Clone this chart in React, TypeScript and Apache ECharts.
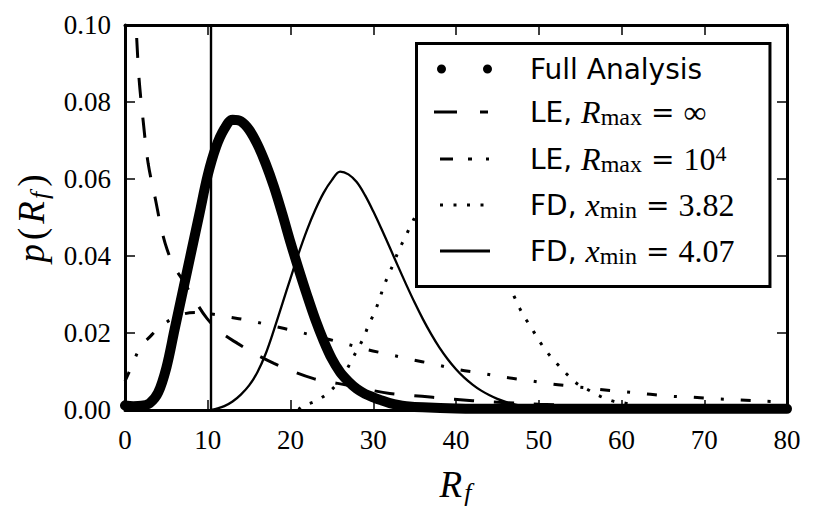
import React, { useEffect, useRef } from "react";
import * as echarts from "echarts";

// ---- axes ----
const xMin = 0;
const xMax = 80;
const xStep = 10;
const yMin = 0;
const yMax = 0.1;
const yStep = 0.02;

// ---- series names ----
const nameFull = "Full Analysis";
const nameLEinf = "LE, R_max = ∞";
const nameLE1e4 = "LE, R_max = 10^4";
const nameFD382 = "FD, x_min = 3.82";
const nameFD407 = "FD, x_min = 4.07";

// ---- Full Analysis (thick) ----
const fullR = [0, 1, 2, 3, 4, 5, 6, 7, 8, 9, 10, 11, 12, 13, 14, 15, 16, 17, 18, 19, 20, 21, 22, 23, 24, 25, 26, 27, 28, 29, 30, 31, 32, 33, 34, 36, 40, 45, 50, 60, 70, 80];
const fullP = [0.0012, 0.001, 0.0011, 0.0018, 0.0045, 0.011, 0.021, 0.031, 0.041, 0.051, 0.061, 0.0683, 0.073, 0.0754, 0.075, 0.0728, 0.069, 0.064, 0.058, 0.051, 0.0435, 0.0365, 0.0298, 0.0235, 0.018, 0.0133, 0.0098, 0.0074, 0.0055, 0.0042, 0.0033, 0.0025, 0.0018, 0.0013, 0.001, 0.0007, 0.0004, 0.0003, 0.0003, 0.0003, 0.0003, 0.0003];

// ---- LE, Rmax = inf (dashed) ----
const leInfR = [1.1, 1.4, 1.7, 2.2, 2.8, 3.7, 4.4, 5.1, 6, 6.9, 8.3, 9.9, 11.7, 13.6, 15.8, 18, 20.3, 22.7, 24.7, 26.8, 29.4, 32, 34.6, 37.2, 42, 46, 50, 55, 60, 70, 80];
const leInfP = [0.107, 0.097, 0.086, 0.075, 0.064, 0.0545, 0.047, 0.0416, 0.037, 0.034, 0.029, 0.0238, 0.02, 0.0173, 0.0145, 0.0121, 0.01, 0.0082, 0.0073, 0.0065, 0.0053, 0.0043, 0.0038, 0.0033, 0.0024, 0.0019, 0.0015, 0.0011, 0.0009, 0.0006, 0.0004];

// ---- LE, Rmax = 10^4 (dash-dot) ----
const le4R = [0, 0.7, 1.9, 3, 3.9, 5, 6, 7.2, 8.5, 10, 12.4, 15.1, 17.9, 20.6, 23.4, 26.2, 29, 31.8, 34.4, 37.4, 40, 43, 45.9, 48.6, 51.4, 54.3, 57.2, 60, 63, 65.7, 68.6, 71.5, 74.3, 77.1, 80];
const le4P = [0.0075, 0.0108, 0.0165, 0.019, 0.021, 0.0228, 0.024, 0.025, 0.0253, 0.0251, 0.0242, 0.0232, 0.0218, 0.0205, 0.019, 0.0175, 0.0158, 0.0145, 0.0132, 0.0119, 0.0106, 0.0096, 0.0085, 0.0077, 0.0068, 0.0061, 0.0054, 0.0048, 0.0042, 0.0036, 0.0033, 0.0029, 0.0026, 0.0023, 0.002];

// ---- FD, xmin = 3.82 (dotted) ----
const fd382R = [21, 21.3, 22.9, 24.3, 25.5, 26.4, 27.2, 28, 28.8, 29.4, 30.1, 30.7, 31.2, 31.8, 32.5, 33.1, 33.8, 34.5, 35.5, 36.5, 37.5, 38.5, 39.5, 40.5, 41.5, 42.5, 43.5, 44.5, 45.5, 47, 47.7, 48.5, 49.4, 50.2, 51.2, 52.3, 53.4, 54.6, 56, 57.5, 59, 60.6, 62, 65, 70, 80];
const fd382P = [0, 0.0009, 0.0022, 0.004, 0.0065, 0.009, 0.0121, 0.0154, 0.0186, 0.0219, 0.0251, 0.0284, 0.0317, 0.0349, 0.0383, 0.0416, 0.0446, 0.0478, 0.052, 0.0555, 0.058, 0.059, 0.0585, 0.057, 0.0545, 0.051, 0.046, 0.041, 0.0355, 0.0296, 0.0264, 0.0234, 0.0203, 0.0175, 0.0145, 0.0118, 0.0093, 0.0069, 0.0052, 0.0035, 0.0023, 0.0017, 0.001, 0.0004, 0.0001, 0];

// ---- FD, xmin = 4.07 (thin solid) ----
const fd407R = [10.4, 11, 12, 13, 14, 15, 16, 17, 18, 19, 20, 21, 22, 23, 24, 25, 26, 27, 28, 29, 30, 31, 32, 33, 34, 35, 36, 37, 38, 39, 40, 41, 42, 43, 44, 45, 46, 47, 48, 49, 50, 52, 55, 60, 80];
const fd407P = [0, 0.0003, 0.001, 0.0022, 0.004, 0.0064, 0.0098, 0.0146, 0.0208, 0.0275, 0.0342, 0.0408, 0.0468, 0.052, 0.0564, 0.0597, 0.0619, 0.0612, 0.0592, 0.0558, 0.0516, 0.047, 0.0422, 0.0373, 0.0325, 0.0279, 0.0236, 0.0197, 0.0162, 0.0132, 0.0106, 0.0084, 0.0066, 0.0051, 0.0039, 0.0029, 0.0021, 0.0015, 0.001, 0.0007, 0.0004, 0.0002, 0.0001, 0, 0];

// vertical reference line position
const cutR = 10.4;

const zip = (xs: number[], ys: number[]) => xs.map((x, i) => [x, ys[i]]);

// legend rich labels
const legendLabels: Record<string, string> = {
  [nameFull]: "{s|Full Analysis}",
  [nameLEinf]: "{s|LE, }{i|R}{sub|max}{eq|=}{m|∞}",
  [nameLE1e4]: "{s|LE, }{i|R}{sub|max}{eq|=}{m|10}{sup|4}",
  [nameFD382]: "{s|FD, }{i|x}{sub|min}{eq|=}{m|3.82}",
  [nameFD407]: "{s|FD, }{i|x}{sub|min}{eq|=}{m|4.07}",
};

// legend icons (58 x 10 boxes)
const B = "M0,0M58,10";
const iconFull = "path://" + B + "M3,5a4.5,4.5 0 1,0 9,0a4.5,4.5 0 1,0 -9,0M49,5a4.5,4.5 0 1,0 9,0a4.5,4.5 0 1,0 -9,0";
const iconDash = "path://" + B + "M0,3.5h23v3h-23zM46,3.5h8v3h-8z";
const iconDashDot = "path://" + B + "M6,3.5h13v3h-13zM34,3.5h4v3h-4zM52,3.5h3v3h-3z";
const iconDot = "path://" + B + "M6,3.5h3v3h-3zM19.5,3.5h3v3h-3zM33,3.5h3v3h-3zM46.5,3.5h3v3h-3z";
const iconSolid = "path://" + B + "M6,3.5h50v3h-50z";

const serif = "Liberation Serif, DejaVu Serif, serif";

export default function App() {
  const ref = useRef<HTMLDivElement>(null);

  useEffect(() => {
    document.body.style.margin = "0";
    if (!ref.current) return;
    const chart = echarts.init(ref.current, null, { renderer: "svg" });

    const axisLine = { show: true, onZero: false, lineStyle: { color: "#000", width: 3 } };
    const axisTick = { show: true, inside: true, length: 10, lineStyle: { color: "#000", width: 1.5 } };
    const tickFont = { fontFamily: serif, fontSize: 27, color: "#000" };
    const nameRich = {
      i: { fontFamily: serif, fontStyle: "italic", fontSize: 37, lineHeight: 42, color: "#000", padding: [0, 1, 0, 1] },
      m: { fontFamily: serif, fontSize: 37, lineHeight: 42, color: "#000", padding: [0, 3, 0, 3] },
      sub: { fontFamily: serif, fontStyle: "italic", fontSize: 26, lineHeight: 24, verticalAlign: "bottom", color: "#000", padding: [0, 2, 0, 1] },
    };

    const lineSeries = (name: string, data: number[][], width: number, type: any, extra: any = {}) => ({
      name,
      type: "line",
      data,
      symbol: "none",
      showSymbol: false,
      smooth: 0.35,
      color: "#000",
      lineStyle: { color: "#000", width, type, cap: "butt" },
      emphasis: { disabled: true },
      silent: true,
      z: 2,
      ...extra,
    });

    chart.setOption({
      animation: false,
      backgroundColor: "#fff",
      grid: { left: 125, top: 25, width: 662, height: 385 },
      xAxis: [
        {
          type: "value",
          min: xMin,
          max: xMax,
          interval: xStep,
          position: "bottom",
          axisLine,
          axisTick,
          axisLabel: { ...tickFont, margin: 16 },
          splitLine: { show: false },
          name: "{i|R}{sub|f}",
          nameLocation: "middle",
          nameGap: 53,
          nameTextStyle: { rich: nameRich },
        },
        {
          type: "value",
          min: xMin,
          max: xMax,
          interval: xStep,
          position: "top",
          axisLine,
          axisTick,
          axisLabel: { show: false },
          splitLine: { show: false },
        },
      ],
      yAxis: [
        {
          type: "value",
          min: yMin,
          max: yMax,
          interval: yStep,
          position: "left",
          axisLine,
          axisTick,
          axisLabel: { ...tickFont, margin: 14, formatter: (v: number) => v.toFixed(2) },
          splitLine: { show: false },
          name: "{i|p}{m|(}{i|R}{sub|f}{m|)}",
          nameLocation: "middle",
          nameRotate: 90,
          nameGap: 62,
          nameTextStyle: { rich: nameRich },
        },
        {
          type: "value",
          min: yMin,
          max: yMax,
          interval: yStep,
          position: "right",
          axisLine,
          axisTick,
          axisLabel: { show: false },
          splitLine: { show: false },
        },
      ],
      legend: {
        orient: "vertical",
        left: 416.5,
        top: 43.5,
        padding: [11.5, 35.5, 18.5, 17.5],
        backgroundColor: "#fff",
        borderColor: "#000",
        borderWidth: 3,
        borderRadius: 0,
        itemWidth: 58,
        itemHeight: 10,
        itemGap: 13,
        selectedMode: false,
        symbolKeepAspect: true,
        z: 5,
        itemStyle: { color: "#000", borderWidth: 0 },
        data: [
          { name: nameFull, icon: iconFull },
          { name: nameLEinf, icon: iconDash },
          { name: nameLE1e4, icon: iconDashDot },
          { name: nameFD382, icon: iconDot },
          { name: nameFD407, icon: iconSolid },
        ],
        formatter: (name: string) => legendLabels[name] || name,
        textStyle: {
          color: "#000",
          padding: [0, 0, 0, 33],
          rich: {
            s: { fontFamily: "DejaVu Sans, sans-serif", fontSize: 28, lineHeight: 34, color: "#000" },
            i: { fontFamily: serif, fontStyle: "italic", fontSize: 32, lineHeight: 34, color: "#000" },
            m: { fontFamily: serif, fontSize: 32, lineHeight: 34, color: "#000" },
            eq: { fontFamily: "DejaVu Serif, serif", fontSize: 28, lineHeight: 34, padding: [0, 9, 0, 9], color: "#000" },
            sub: { fontFamily: serif, fontSize: 24, lineHeight: 18, verticalAlign: "bottom", color: "#000" },
            sup: { fontFamily: serif, fontSize: 22, lineHeight: 18, verticalAlign: "top", color: "#000" },
          },
        },
      },
      series: [
        lineSeries(nameFull, zip(fullR, fullP), 10, "solid", { lineStyle: { color: "#000", width: 10, type: "solid", cap: "round", join: "round" } }),
        lineSeries(nameLEinf, zip(leInfR, leInfP), 3, [20, 20]),
        lineSeries(nameLE1e4, zip(le4R, le4P), 3, [10, 17, 3, 17]),
        lineSeries(nameFD382, zip(fd382R, fd382P), 3, [3, 10.4]),
        lineSeries(nameFD407, zip(fd407R, fd407P), 2.3, "solid", {
          markLine: {
            silent: true,
            symbol: ["none", "none"],
            label: { show: false },
            lineStyle: { color: "#000", width: 2.4, type: "solid" },
            emphasis: { disabled: true },
            data: [{ xAxis: cutR }],
          },
        }),
      ],
    });

    return () => chart.dispose();
  }, []);

  return <div ref={ref} style={{ width: 830, height: 513 }} />;
}
